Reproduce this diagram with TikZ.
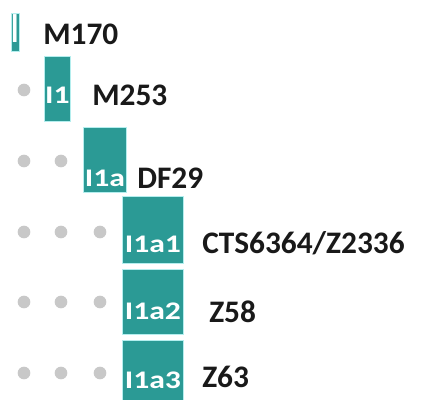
\documentclass[tikz,border=0pt]{standalone}
\usepackage{fontspec}
\setmainfont{Carlito}
\definecolor{tealbox}{HTML}{2B9A95}
\definecolor{tealedge}{HTML}{B4EEEE}
\definecolor{dotgray}{HTML}{C8C8C8}
\newcommand{\wide}[1]{\scalebox{1.25}[1]{#1}}

\begin{document}
\begin{tikzpicture}[x=0.75pt,y=-0.75pt,
    tag/.style={fill=tealbox,draw=tealedge,line width=0.6pt,text=white,inner sep=0pt,anchor=south west,font=\fontsize{19}{22}\selectfont\bfseries},
    snp/.style={anchor=base west,inner sep=0pt,text=black!90,font=\fontsize{23.5}{28}\selectfont\bfseries},
    dot/.style={circle,fill=dotgray,inner sep=0pt,minimum size=9.5pt}]
  \useasboundingbox (0,0) rectangle (422,400);

  % haplogroup boxes
  \node[tag,minimum width=6pt,text height=21.75pt,text depth=6.75pt] (I) at (11,52) {\scalebox{1.1}[1.7]{I}};
  \node[tag,minimum width=19.5pt,text height=35.25pt,text depth=13.5pt] (I1) at (44,122) {\wide{I1}};
  \node[tag,minimum width=32.25pt,text height=44.25pt,text depth=4.5pt] (I1a) at (83,193) {\wide{I1a}};
  \node[tag,minimum width=45.75pt,text height=42pt,text depth=8.25pt] (I1a1) at (122,264) {\wide{I1a1}};
  \node[tag,minimum width=45.75pt,text height=37.5pt,text depth=11.25pt] (I1a2) at (122,335) {\wide{I1a2}};
  \node[tag,minimum width=45.75pt,text height=36pt,text depth=12pt] (I1a3) at (122,405) {\wide{I1a3}};

  % snp names
  \node[snp] (M170) at (43,44) {M170};
  \node[snp] (M253) at (92,105) {M253};
  \node[snp] (DF29) at (137,188) {DF29};
  \node[snp] (CTS6364) at (202,253) {CTS6364/Z2336};
  \node[snp] (Z58) at (209,322) {Z58};
  \node[snp] (Z63) at (202,387) {Z63};

  % indent dots
  \node[dot] (d21) at (24,90) {};
  \node[dot] (d31) at (24,161) {};
  \node[dot] (d32) at (61,161) {};
  \foreach \row/\y in {4/232,5/302,6/373}{
    \node[dot] (d\row1) at (24,\y) {};
    \node[dot] (d\row2) at (61,\y) {};
    \node[dot] (d\row3) at (100,\y) {};
  }
\end{tikzpicture}
\end{document}
